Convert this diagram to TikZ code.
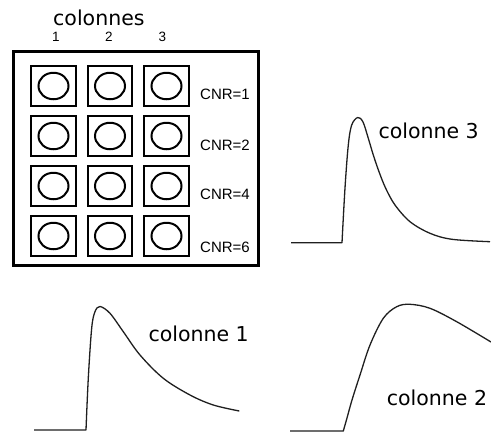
\documentclass[tikz,border=0pt]{standalone}
\usepackage{fontspec}
\setmainfont{DejaVu Sans}
\newfontfamily\arialf{Liberation Sans}
\usetikzlibrary{shapes.geometric}
\begin{document}
\begin{tikzpicture}[x=1pt,y=-1pt,
  frame/.style={draw,line width=3pt},
  cell/.style={draw,line width=2pt,minimum width=44.5pt,minimum height=39.5pt,inner sep=0pt},
  disc/.style={draw,ellipse,line width=2pt,minimum width=30pt,minimum height=26.5pt,inner sep=0pt},
  bigtxt/.style={font=\fontsize{20.5}{22}\selectfont,inner sep=0pt,anchor=base west},
  smalltxt/.style={font=\arialf\fontsize{13.5}{15}\selectfont,inner sep=0pt,anchor=base},
  cnr/.style={font=\arialf\fontsize{15}{17}\selectfont,inner sep=0pt,anchor=base west},
  curve/.style={line width=1.3pt,black!88,line join=round}]
\useasboundingbox (0,0) rectangle (491,432);
% outer frame
\node[frame,minimum width=244.5pt,minimum height=214.5pt,inner sep=0pt] (frame) at (136,158.6) {};
% header
\node[bigtxt] (colonnes) at (53,25) {colonnes};
\node[smalltxt] (n1) at (56,41.3) {1};
\node[smalltxt] (n2) at (109,41.3) {2};
\node[smalltxt] (n3) at (162.5,41.3) {3};
% cells
\foreach \r/\y in {1/86,2/136,3/186,4/236}{
  \foreach \c/\x in {1/53.5,2/110,3/166.5}{
    \node[cell] (s\r\c) at (\x,\y) {};
    \node[disc] (d\r\c) at (s\r\c.center) {};
  }
}
\node[cnr] (cnr1) at (200,99) {CNR=1};
\node[cnr] (cnr2) at (200,150.7) {CNR=2};
\node[cnr] (cnr4) at (200,199) {CNR=4};
\node[cnr] (cnr6) at (200,252.3) {CNR=6};
% colonne 3 curve
\coordinate (c3a) at (291,242.7);
\draw[curve] (c3a) -- plot[smooth,tension=0.55] coordinates {(342,242.7) (345,188) (348.3,145) (351.7,125) (357.7,117.5) (363,122) (368.3,138.3) (373.3,155) (379,171.7) (385.7,188.3) (395,205) (410,221.7) (430,233.3) (452,239.3) (490,241.7)};
\node[bigtxt] (lab3) at (378.3,138.3) {colonne 3};
% colonne 1 curve
\coordinate (c1a) at (34,430);
\draw[curve] (c1a) -- plot[smooth,tension=0.55] coordinates {(86,430) (88.3,378) (91.7,328) (95,311.7) (100,306.5) (110,313.3) (123.3,331.7) (140,355) (163.3,378.3) (190,395) (213.3,405) (239.3,411)};
\node[bigtxt] (lab1) at (148.3,341) {colonne 1};
% colonne 2 curve
\coordinate (c2a) at (290,431);
\draw[curve] (c2a) -- plot[smooth,tension=0.55] coordinates {(343.3,431) (347,418) (352,400) (360,375) (370,345) (383.3,318.3) (396.7,306.7) (410,304.3) (430,308.3) (456.7,321.7) (491,342)};
\node[bigtxt] (lab2) at (386.7,405) {colonne 2};
\end{tikzpicture}
\end{document}
